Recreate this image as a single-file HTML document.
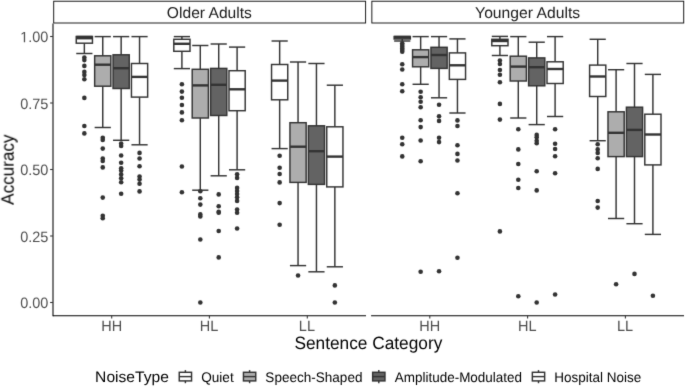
<!DOCTYPE html>
<html><head><meta charset="utf-8"><style>
html,body{margin:0;padding:0;background:#fff;}
svg{display:block;will-change:transform;}
text{font-family:"Liberation Sans",sans-serif;text-rendering:geometricPrecision;}
.st{font-size:15.4px;fill:#1a1a1a;}
.at{font-size:14.4px;fill:#4d4d4d;}
.ti{font-size:17.3px;fill:#000;}
.lt{font-size:15.3px;fill:#000;}
.lg{font-size:13.9px;fill:#000;}
circle{fill:#333333;}
</style></head><body>
<svg width="685" height="387" viewBox="0 0 685 387">
<defs><filter id="bl" x="0" y="0" width="685" height="387" filterUnits="userSpaceOnUse" color-interpolation-filters="sRGB"><feConvolveMatrix order="3" kernelMatrix="0.0100 0.0800 0.0100 0.0800 0.6400 0.0800 0.0100 0.0800 0.0100" divisor="1" edgeMode="duplicate" preserveAlpha="true"/></filter></defs>
<g filter="url(#bl)">
<rect width="685" height="387" fill="#fff"/>
<rect x="53.7" y="1.24" width="311.9" height="21.76" fill="#fff" stroke="#111" stroke-width="0.95"/>
<rect x="371.85" y="1.24" width="311.85" height="21.76" fill="#fff" stroke="#111" stroke-width="0.95"/>
<line x1="53.0" y1="23.4" x2="53.0" y2="316.37" stroke="#000" stroke-width="1.06"/>
<line x1="52.9" y1="315.86" x2="366" y2="315.86" stroke="#000" stroke-width="1.02"/>
<line x1="111.7" y1="315.86" x2="111.7" y2="318.6" stroke="#333" stroke-width="1.07"/>
<text x="101.21" y="330.90" textLength="20.91" lengthAdjust="spacingAndGlyphs" class="at" style="font-size:15.0px">HH</text>
<line x1="209.4" y1="315.86" x2="209.4" y2="318.6" stroke="#333" stroke-width="1.07"/>
<text x="199.75" y="330.90" textLength="18.52" lengthAdjust="spacingAndGlyphs" class="at" style="font-size:15.0px">HL</text>
<line x1="307.3" y1="315.86" x2="307.3" y2="318.6" stroke="#333" stroke-width="1.07"/>
<text x="298.86" y="330.90" textLength="16.10" lengthAdjust="spacingAndGlyphs" class="at" style="font-size:15.0px">LL</text>
<line x1="371.1" y1="315.86" x2="684" y2="315.86" stroke="#000" stroke-width="1.02"/>
<line x1="429.8" y1="315.86" x2="429.8" y2="318.6" stroke="#333" stroke-width="1.07"/>
<text x="419.31" y="330.90" textLength="20.91" lengthAdjust="spacingAndGlyphs" class="at" style="font-size:15.0px">HH</text>
<line x1="527.6" y1="315.86" x2="527.6" y2="318.6" stroke="#333" stroke-width="1.07"/>
<text x="517.95" y="330.90" textLength="18.52" lengthAdjust="spacingAndGlyphs" class="at" style="font-size:15.0px">HL</text>
<line x1="625.4" y1="315.86" x2="625.4" y2="318.6" stroke="#333" stroke-width="1.07"/>
<text x="616.96" y="330.90" textLength="16.10" lengthAdjust="spacingAndGlyphs" class="at" style="font-size:15.0px">LL</text>
<line x1="50.1" y1="36.5" x2="52.9" y2="36.5" stroke="#333" stroke-width="1.07"/>
<path d="M515 0L515 1237L197 1010L197 1180L530 1409L696 1409L696 0Z" fill="#4d4d4d" transform="translate(20.20,42.20) scale(0.007068,-0.007324)"/>
<text x="28.25" y="42.20" textLength="20.13" lengthAdjust="spacingAndGlyphs" class="at" style="font-size:15.0px">.00</text>
<line x1="50.1" y1="103" x2="52.9" y2="103" stroke="#333" stroke-width="1.07"/>
<text x="20.20" y="108.70" textLength="28.18" lengthAdjust="spacingAndGlyphs" class="at" style="font-size:15.0px">0.75</text>
<line x1="50.1" y1="169.5" x2="52.9" y2="169.5" stroke="#333" stroke-width="1.07"/>
<text x="20.20" y="175.20" textLength="28.18" lengthAdjust="spacingAndGlyphs" class="at" style="font-size:15.0px">0.50</text>
<line x1="50.1" y1="236" x2="52.9" y2="236" stroke="#333" stroke-width="1.07"/>
<text x="20.20" y="241.70" textLength="28.18" lengthAdjust="spacingAndGlyphs" class="at" style="font-size:15.0px">0.25</text>
<line x1="50.1" y1="302.5" x2="52.9" y2="302.5" stroke="#333" stroke-width="1.07"/>
<text x="20.20" y="308.20" textLength="28.18" lengthAdjust="spacingAndGlyphs" class="at" style="font-size:15.0px">0.00</text>
<line x1="84.35" y1="36.5" x2="84.35" y2="36.5" stroke="#333333" stroke-width="1.45"/>
<line x1="84.35" y1="43.2" x2="84.35" y2="53.5" stroke="#333333" stroke-width="1.45"/>
<line x1="76.25" y1="36.5" x2="92.45" y2="36.5" stroke="#333333" stroke-width="1.45"/>
<line x1="76.25" y1="53.5" x2="92.45" y2="53.5" stroke="#333333" stroke-width="1.45"/>
<rect x="76.25" y="36.5" width="16.2" height="6.7" fill="#ffffff" stroke="#333333" stroke-width="1.45"/>
<line x1="76.25" y1="38.2" x2="92.45" y2="38.2" stroke="#333333" stroke-width="2.4"/>
<circle cx="84.35" cy="57.6" r="2.3"/>
<circle cx="84.35" cy="60.1" r="2.3"/>
<circle cx="84.35" cy="65.9" r="2.3"/>
<circle cx="84.35" cy="71.9" r="2.3"/>
<circle cx="84.35" cy="75" r="2.3"/>
<circle cx="84.35" cy="79.3" r="2.3"/>
<circle cx="84.35" cy="97.9" r="2.3"/>
<circle cx="84.35" cy="126" r="2.3"/>
<circle cx="84.35" cy="133.4" r="2.3"/>
<line x1="102.75" y1="36.6" x2="102.75" y2="55.8" stroke="#333333" stroke-width="1.45"/>
<line x1="102.75" y1="86.2" x2="102.75" y2="127.5" stroke="#333333" stroke-width="1.45"/>
<line x1="94.65" y1="36.6" x2="110.85" y2="36.6" stroke="#333333" stroke-width="1.45"/>
<line x1="94.65" y1="127.5" x2="110.85" y2="127.5" stroke="#333333" stroke-width="1.45"/>
<rect x="94.65" y="55.8" width="16.2" height="30.4" fill="#adadad" stroke="#333333" stroke-width="1.45"/>
<line x1="94.65" y1="64.7" x2="110.85" y2="64.7" stroke="#333333" stroke-width="2.4"/>
<circle cx="102.75" cy="137.8" r="2.3"/>
<circle cx="102.75" cy="139.9" r="2.3"/>
<circle cx="102.75" cy="148.6" r="2.3"/>
<circle cx="102.75" cy="158.5" r="2.3"/>
<circle cx="102.75" cy="161" r="2.3"/>
<circle cx="102.75" cy="167.4" r="2.3"/>
<circle cx="102.75" cy="197.6" r="2.3"/>
<circle cx="102.75" cy="215.8" r="2.3"/>
<circle cx="102.75" cy="218.3" r="2.3"/>
<line x1="121.15" y1="36.6" x2="121.15" y2="54.8" stroke="#333333" stroke-width="1.45"/>
<line x1="121.15" y1="88.5" x2="121.15" y2="140.3" stroke="#333333" stroke-width="1.45"/>
<line x1="113.05" y1="36.6" x2="129.25" y2="36.6" stroke="#333333" stroke-width="1.45"/>
<line x1="113.05" y1="140.3" x2="129.25" y2="140.3" stroke="#333333" stroke-width="1.45"/>
<rect x="113.05" y="54.8" width="16.2" height="33.7" fill="#636363" stroke="#333333" stroke-width="1.45"/>
<line x1="113.05" y1="68.2" x2="129.25" y2="68.2" stroke="#333333" stroke-width="2.4"/>
<circle cx="121.15" cy="143.5" r="2.3"/>
<circle cx="121.15" cy="146" r="2.3"/>
<circle cx="121.15" cy="155.5" r="2.3"/>
<circle cx="121.15" cy="162.8" r="2.3"/>
<circle cx="121.15" cy="168.2" r="2.3"/>
<circle cx="121.15" cy="170.6" r="2.3"/>
<circle cx="121.15" cy="174.4" r="2.3"/>
<circle cx="121.15" cy="178.3" r="2.3"/>
<circle cx="121.15" cy="182.2" r="2.3"/>
<circle cx="121.15" cy="193.8" r="2.3"/>
<line x1="139.55" y1="36.6" x2="139.55" y2="63.5" stroke="#333333" stroke-width="1.45"/>
<line x1="139.55" y1="97.1" x2="139.55" y2="144.8" stroke="#333333" stroke-width="1.45"/>
<line x1="131.45" y1="36.6" x2="147.65" y2="36.6" stroke="#333333" stroke-width="1.45"/>
<line x1="131.45" y1="144.8" x2="147.65" y2="144.8" stroke="#333333" stroke-width="1.45"/>
<rect x="131.45" y="63.5" width="16.2" height="33.6" fill="#ffffff" stroke="#333333" stroke-width="1.45"/>
<line x1="131.45" y1="76.9" x2="147.65" y2="76.9" stroke="#333333" stroke-width="2.4"/>
<circle cx="139.55" cy="152.9" r="2.3"/>
<circle cx="139.55" cy="158.5" r="2.3"/>
<circle cx="139.55" cy="166.2" r="2.3"/>
<circle cx="139.55" cy="176.5" r="2.3"/>
<circle cx="139.55" cy="179.6" r="2.3"/>
<circle cx="139.55" cy="183.8" r="2.3"/>
<circle cx="139.55" cy="191.4" r="2.3"/>
<line x1="181.9" y1="36.6" x2="181.9" y2="39.3" stroke="#333333" stroke-width="1.45"/>
<line x1="181.9" y1="51.3" x2="181.9" y2="68.6" stroke="#333333" stroke-width="1.45"/>
<line x1="173.8" y1="36.6" x2="190" y2="36.6" stroke="#333333" stroke-width="1.45"/>
<line x1="173.8" y1="68.6" x2="190" y2="68.6" stroke="#333333" stroke-width="1.45"/>
<rect x="173.8" y="39.3" width="16.2" height="12" fill="#ffffff" stroke="#333333" stroke-width="1.45"/>
<line x1="173.8" y1="43.8" x2="190" y2="43.8" stroke="#333333" stroke-width="2.4"/>
<circle cx="181.9" cy="84.3" r="2.3"/>
<circle cx="181.9" cy="91.6" r="2.3"/>
<circle cx="181.9" cy="97.8" r="2.3"/>
<circle cx="181.9" cy="105" r="2.3"/>
<circle cx="181.9" cy="112.4" r="2.3"/>
<circle cx="181.9" cy="120.2" r="2.3"/>
<circle cx="181.9" cy="166.5" r="2.3"/>
<circle cx="181.9" cy="192.3" r="2.3"/>
<line x1="200.3" y1="45.5" x2="200.3" y2="69.3" stroke="#333333" stroke-width="1.45"/>
<line x1="200.3" y1="118" x2="200.3" y2="190.2" stroke="#333333" stroke-width="1.45"/>
<line x1="192.2" y1="45.5" x2="208.4" y2="45.5" stroke="#333333" stroke-width="1.45"/>
<line x1="192.2" y1="190.2" x2="208.4" y2="190.2" stroke="#333333" stroke-width="1.45"/>
<rect x="192.2" y="69.3" width="16.2" height="48.7" fill="#adadad" stroke="#333333" stroke-width="1.45"/>
<line x1="192.2" y1="85.4" x2="208.4" y2="85.4" stroke="#333333" stroke-width="2.4"/>
<circle cx="200.3" cy="191.3" r="2.3"/>
<circle cx="200.3" cy="198.3" r="2.3"/>
<circle cx="200.3" cy="204.6" r="2.3"/>
<circle cx="200.3" cy="214.4" r="2.3"/>
<circle cx="200.3" cy="216.4" r="2.3"/>
<circle cx="200.3" cy="239.5" r="2.3"/>
<circle cx="200.3" cy="302.5" r="2.3"/>
<line x1="218.7" y1="44" x2="218.7" y2="68.4" stroke="#333333" stroke-width="1.45"/>
<line x1="218.7" y1="115.5" x2="218.7" y2="175.8" stroke="#333333" stroke-width="1.45"/>
<line x1="210.6" y1="44" x2="226.8" y2="44" stroke="#333333" stroke-width="1.45"/>
<line x1="210.6" y1="175.8" x2="226.8" y2="175.8" stroke="#333333" stroke-width="1.45"/>
<rect x="210.6" y="68.4" width="16.2" height="47.1" fill="#636363" stroke="#333333" stroke-width="1.45"/>
<line x1="210.6" y1="84.8" x2="226.8" y2="84.8" stroke="#333333" stroke-width="2.4"/>
<circle cx="218.7" cy="194.4" r="2.3"/>
<circle cx="218.7" cy="206.2" r="2.3"/>
<circle cx="218.7" cy="211.8" r="2.3"/>
<circle cx="218.7" cy="212.8" r="2.3"/>
<circle cx="218.7" cy="231" r="2.3"/>
<circle cx="218.7" cy="257.4" r="2.3"/>
<line x1="237.1" y1="47.1" x2="237.1" y2="70.7" stroke="#333333" stroke-width="1.45"/>
<line x1="237.1" y1="110.7" x2="237.1" y2="169.8" stroke="#333333" stroke-width="1.45"/>
<line x1="229" y1="47.1" x2="245.2" y2="47.1" stroke="#333333" stroke-width="1.45"/>
<line x1="229" y1="169.8" x2="245.2" y2="169.8" stroke="#333333" stroke-width="1.45"/>
<rect x="229" y="70.7" width="16.2" height="40" fill="#ffffff" stroke="#333333" stroke-width="1.45"/>
<line x1="229" y1="89.3" x2="245.2" y2="89.3" stroke="#333333" stroke-width="2.4"/>
<circle cx="237.1" cy="174.2" r="2.3"/>
<circle cx="237.1" cy="177.9" r="2.3"/>
<circle cx="237.1" cy="187.9" r="2.3"/>
<circle cx="237.1" cy="191" r="2.3"/>
<circle cx="237.1" cy="194" r="2.3"/>
<circle cx="237.1" cy="197.2" r="2.3"/>
<circle cx="237.1" cy="200.9" r="2.3"/>
<circle cx="237.1" cy="209.6" r="2.3"/>
<circle cx="237.1" cy="212.7" r="2.3"/>
<circle cx="237.1" cy="228.5" r="2.3"/>
<line x1="279.65" y1="41" x2="279.65" y2="64.5" stroke="#333333" stroke-width="1.45"/>
<line x1="279.65" y1="99.8" x2="279.65" y2="148.6" stroke="#333333" stroke-width="1.45"/>
<line x1="271.55" y1="41" x2="287.75" y2="41" stroke="#333333" stroke-width="1.45"/>
<line x1="271.55" y1="148.6" x2="287.75" y2="148.6" stroke="#333333" stroke-width="1.45"/>
<rect x="271.55" y="64.5" width="16.2" height="35.3" fill="#ffffff" stroke="#333333" stroke-width="1.45"/>
<line x1="271.55" y1="80.6" x2="287.75" y2="80.6" stroke="#333333" stroke-width="2.4"/>
<circle cx="279.65" cy="155.8" r="2.3"/>
<circle cx="279.65" cy="167.8" r="2.3"/>
<circle cx="279.65" cy="174" r="2.3"/>
<circle cx="279.65" cy="182.4" r="2.3"/>
<circle cx="279.65" cy="203.1" r="2.3"/>
<circle cx="279.65" cy="224.8" r="2.3"/>
<line x1="298.05" y1="62" x2="298.05" y2="122.7" stroke="#333333" stroke-width="1.45"/>
<line x1="298.05" y1="182.4" x2="298.05" y2="265.6" stroke="#333333" stroke-width="1.45"/>
<line x1="289.95" y1="62" x2="306.15" y2="62" stroke="#333333" stroke-width="1.45"/>
<line x1="289.95" y1="265.6" x2="306.15" y2="265.6" stroke="#333333" stroke-width="1.45"/>
<rect x="289.95" y="122.7" width="16.2" height="59.7" fill="#adadad" stroke="#333333" stroke-width="1.45"/>
<line x1="289.95" y1="146.7" x2="306.15" y2="146.7" stroke="#333333" stroke-width="2.4"/>
<circle cx="298.05" cy="275.5" r="2.3"/>
<line x1="316.45" y1="63.5" x2="316.45" y2="125.8" stroke="#333333" stroke-width="1.45"/>
<line x1="316.45" y1="184.4" x2="316.45" y2="271.8" stroke="#333333" stroke-width="1.45"/>
<line x1="308.35" y1="63.5" x2="324.55" y2="63.5" stroke="#333333" stroke-width="1.45"/>
<line x1="308.35" y1="271.8" x2="324.55" y2="271.8" stroke="#333333" stroke-width="1.45"/>
<rect x="308.35" y="125.8" width="16.2" height="58.6" fill="#636363" stroke="#333333" stroke-width="1.45"/>
<line x1="308.35" y1="151.2" x2="324.55" y2="151.2" stroke="#333333" stroke-width="2.4"/>
<line x1="334.85" y1="85.2" x2="334.85" y2="126.8" stroke="#333333" stroke-width="1.45"/>
<line x1="334.85" y1="186.9" x2="334.85" y2="266.8" stroke="#333333" stroke-width="1.45"/>
<line x1="326.75" y1="85.2" x2="342.95" y2="85.2" stroke="#333333" stroke-width="1.45"/>
<line x1="326.75" y1="266.8" x2="342.95" y2="266.8" stroke="#333333" stroke-width="1.45"/>
<rect x="326.75" y="126.8" width="16.2" height="60.1" fill="#ffffff" stroke="#333333" stroke-width="1.45"/>
<line x1="326.75" y1="156.6" x2="342.95" y2="156.6" stroke="#333333" stroke-width="2.4"/>
<circle cx="334.85" cy="285.4" r="2.3"/>
<circle cx="334.85" cy="302.5" r="2.3"/>
<line x1="402.25" y1="36.5" x2="402.25" y2="36.5" stroke="#333333" stroke-width="1.45"/>
<line x1="402.25" y1="39" x2="402.25" y2="41" stroke="#333333" stroke-width="1.45"/>
<line x1="394.15" y1="36.5" x2="410.35" y2="36.5" stroke="#333333" stroke-width="1.45"/>
<line x1="394.15" y1="41" x2="410.35" y2="41" stroke="#333333" stroke-width="1.45"/>
<rect x="394.15" y="36.5" width="16.2" height="2.5" fill="#ffffff" stroke="#333333" stroke-width="1.45"/>
<line x1="394.15" y1="37.6" x2="410.35" y2="37.6" stroke="#333333" stroke-width="2.4"/>
<circle cx="402.25" cy="43.3" r="2.3"/>
<circle cx="402.25" cy="45" r="2.3"/>
<circle cx="402.25" cy="46.7" r="2.3"/>
<circle cx="402.25" cy="48.4" r="2.3"/>
<circle cx="402.25" cy="50" r="2.3"/>
<circle cx="402.25" cy="51.7" r="2.3"/>
<circle cx="402.25" cy="64.3" r="2.3"/>
<circle cx="402.25" cy="69.5" r="2.3"/>
<circle cx="402.25" cy="84.3" r="2.3"/>
<circle cx="402.25" cy="91.2" r="2.3"/>
<circle cx="402.25" cy="137.8" r="2.3"/>
<circle cx="402.25" cy="144.2" r="2.3"/>
<circle cx="402.25" cy="156.4" r="2.3"/>
<line x1="420.65" y1="36.6" x2="420.65" y2="49.8" stroke="#333333" stroke-width="1.45"/>
<line x1="420.65" y1="66.8" x2="420.65" y2="84.3" stroke="#333333" stroke-width="1.45"/>
<line x1="412.55" y1="36.6" x2="428.75" y2="36.6" stroke="#333333" stroke-width="1.45"/>
<line x1="412.55" y1="84.3" x2="428.75" y2="84.3" stroke="#333333" stroke-width="1.45"/>
<rect x="412.55" y="49.8" width="16.2" height="17" fill="#adadad" stroke="#333333" stroke-width="1.45"/>
<line x1="412.55" y1="57.1" x2="428.75" y2="57.1" stroke="#333333" stroke-width="2.4"/>
<circle cx="420.65" cy="91.8" r="2.3"/>
<circle cx="420.65" cy="97.3" r="2.3"/>
<circle cx="420.65" cy="101.7" r="2.3"/>
<circle cx="420.65" cy="107.2" r="2.3"/>
<circle cx="420.65" cy="120.2" r="2.3"/>
<circle cx="420.65" cy="127.1" r="2.3"/>
<circle cx="420.65" cy="140.5" r="2.3"/>
<circle cx="420.65" cy="161.2" r="2.3"/>
<circle cx="420.65" cy="271.8" r="2.3"/>
<line x1="439.05" y1="36.6" x2="439.05" y2="47.3" stroke="#333333" stroke-width="1.45"/>
<line x1="439.05" y1="68.4" x2="439.05" y2="97.8" stroke="#333333" stroke-width="1.45"/>
<line x1="430.95" y1="36.6" x2="447.15" y2="36.6" stroke="#333333" stroke-width="1.45"/>
<line x1="430.95" y1="97.8" x2="447.15" y2="97.8" stroke="#333333" stroke-width="1.45"/>
<rect x="430.95" y="47.3" width="16.2" height="21.1" fill="#636363" stroke="#333333" stroke-width="1.45"/>
<line x1="430.95" y1="55" x2="447.15" y2="55" stroke="#333333" stroke-width="2.4"/>
<circle cx="439.05" cy="104.8" r="2.3"/>
<circle cx="439.05" cy="116.3" r="2.3"/>
<circle cx="439.05" cy="120.9" r="2.3"/>
<circle cx="439.05" cy="137.8" r="2.3"/>
<circle cx="439.05" cy="142.1" r="2.3"/>
<circle cx="439.05" cy="271.2" r="2.3"/>
<line x1="457.45" y1="38.9" x2="457.45" y2="52.9" stroke="#333333" stroke-width="1.45"/>
<line x1="457.45" y1="79.4" x2="457.45" y2="113" stroke="#333333" stroke-width="1.45"/>
<line x1="449.35" y1="38.9" x2="465.55" y2="38.9" stroke="#333333" stroke-width="1.45"/>
<line x1="449.35" y1="113" x2="465.55" y2="113" stroke="#333333" stroke-width="1.45"/>
<rect x="449.35" y="52.9" width="16.2" height="26.5" fill="#ffffff" stroke="#333333" stroke-width="1.45"/>
<line x1="449.35" y1="65.3" x2="465.55" y2="65.3" stroke="#333333" stroke-width="2.4"/>
<circle cx="457.45" cy="120.4" r="2.3"/>
<circle cx="457.45" cy="126" r="2.3"/>
<circle cx="457.45" cy="145.2" r="2.3"/>
<circle cx="457.45" cy="153.9" r="2.3"/>
<circle cx="457.45" cy="160.5" r="2.3"/>
<circle cx="457.45" cy="193.3" r="2.3"/>
<circle cx="457.45" cy="257.8" r="2.3"/>
<line x1="499.9" y1="36.4" x2="499.9" y2="39.3" stroke="#333333" stroke-width="1.45"/>
<line x1="499.9" y1="45.7" x2="499.9" y2="55.5" stroke="#333333" stroke-width="1.45"/>
<line x1="491.8" y1="36.4" x2="508" y2="36.4" stroke="#333333" stroke-width="1.45"/>
<line x1="491.8" y1="55.5" x2="508" y2="55.5" stroke="#333333" stroke-width="1.45"/>
<rect x="491.8" y="39.3" width="16.2" height="6.4" fill="#ffffff" stroke="#333333" stroke-width="1.45"/>
<line x1="491.8" y1="41" x2="508" y2="41" stroke="#333333" stroke-width="2.4"/>
<circle cx="499.9" cy="60.5" r="2.3"/>
<circle cx="499.9" cy="64" r="2.3"/>
<circle cx="499.9" cy="70" r="2.3"/>
<circle cx="499.9" cy="74.8" r="2.3"/>
<circle cx="499.9" cy="82.2" r="2.3"/>
<circle cx="499.9" cy="103.9" r="2.3"/>
<circle cx="499.9" cy="119.6" r="2.3"/>
<circle cx="499.9" cy="231.4" r="2.3"/>
<line x1="518.3" y1="36.6" x2="518.3" y2="56.2" stroke="#333333" stroke-width="1.45"/>
<line x1="518.3" y1="81" x2="518.3" y2="118" stroke="#333333" stroke-width="1.45"/>
<line x1="510.2" y1="36.6" x2="526.4" y2="36.6" stroke="#333333" stroke-width="1.45"/>
<line x1="510.2" y1="118" x2="526.4" y2="118" stroke="#333333" stroke-width="1.45"/>
<rect x="510.2" y="56.2" width="16.2" height="24.8" fill="#adadad" stroke="#333333" stroke-width="1.45"/>
<line x1="510.2" y1="66.6" x2="526.4" y2="66.6" stroke="#333333" stroke-width="2.4"/>
<circle cx="518.3" cy="129.3" r="2.3"/>
<circle cx="518.3" cy="149.4" r="2.3"/>
<circle cx="518.3" cy="164" r="2.3"/>
<circle cx="518.3" cy="179.8" r="2.3"/>
<circle cx="518.3" cy="188" r="2.3"/>
<circle cx="518.3" cy="296.2" r="2.3"/>
<line x1="536.7" y1="42.2" x2="536.7" y2="57.9" stroke="#333333" stroke-width="1.45"/>
<line x1="536.7" y1="85.8" x2="536.7" y2="124.6" stroke="#333333" stroke-width="1.45"/>
<line x1="528.6" y1="42.2" x2="544.8" y2="42.2" stroke="#333333" stroke-width="1.45"/>
<line x1="528.6" y1="124.6" x2="544.8" y2="124.6" stroke="#333333" stroke-width="1.45"/>
<rect x="528.6" y="57.9" width="16.2" height="27.9" fill="#636363" stroke="#333333" stroke-width="1.45"/>
<line x1="528.6" y1="67.2" x2="544.8" y2="67.2" stroke="#333333" stroke-width="2.4"/>
<circle cx="536.7" cy="134.9" r="2.3"/>
<circle cx="536.7" cy="137.2" r="2.3"/>
<circle cx="536.7" cy="140.7" r="2.3"/>
<circle cx="536.7" cy="143.2" r="2.3"/>
<circle cx="536.7" cy="171.3" r="2.3"/>
<circle cx="536.7" cy="190.4" r="2.3"/>
<circle cx="536.7" cy="302.5" r="2.3"/>
<line x1="555.1" y1="36.6" x2="555.1" y2="61.8" stroke="#333333" stroke-width="1.45"/>
<line x1="555.1" y1="83.5" x2="555.1" y2="116.5" stroke="#333333" stroke-width="1.45"/>
<line x1="547" y1="36.6" x2="563.2" y2="36.6" stroke="#333333" stroke-width="1.45"/>
<line x1="547" y1="116.5" x2="563.2" y2="116.5" stroke="#333333" stroke-width="1.45"/>
<rect x="547" y="61.8" width="16.2" height="21.7" fill="#ffffff" stroke="#333333" stroke-width="1.45"/>
<line x1="547" y1="69" x2="563.2" y2="69" stroke="#333333" stroke-width="2.4"/>
<circle cx="555.1" cy="129.3" r="2.3"/>
<circle cx="555.1" cy="143.8" r="2.3"/>
<circle cx="555.1" cy="149" r="2.3"/>
<circle cx="555.1" cy="156.2" r="2.3"/>
<circle cx="555.1" cy="173.3" r="2.3"/>
<circle cx="555.1" cy="294.5" r="2.3"/>
<line x1="597.7" y1="39.3" x2="597.7" y2="65.1" stroke="#333333" stroke-width="1.45"/>
<line x1="597.7" y1="96.5" x2="597.7" y2="140.7" stroke="#333333" stroke-width="1.45"/>
<line x1="589.6" y1="39.3" x2="605.8" y2="39.3" stroke="#333333" stroke-width="1.45"/>
<line x1="589.6" y1="140.7" x2="605.8" y2="140.7" stroke="#333333" stroke-width="1.45"/>
<rect x="589.6" y="65.1" width="16.2" height="31.4" fill="#ffffff" stroke="#333333" stroke-width="1.45"/>
<line x1="589.6" y1="76.5" x2="605.8" y2="76.5" stroke="#333333" stroke-width="2.4"/>
<circle cx="597.7" cy="144.2" r="2.3"/>
<circle cx="597.7" cy="149.4" r="2.3"/>
<circle cx="597.7" cy="152.9" r="2.3"/>
<circle cx="597.7" cy="158.2" r="2.3"/>
<circle cx="597.7" cy="168.9" r="2.3"/>
<circle cx="597.7" cy="201" r="2.3"/>
<circle cx="597.7" cy="207.6" r="2.3"/>
<line x1="616.1" y1="69.7" x2="616.1" y2="111.8" stroke="#333333" stroke-width="1.45"/>
<line x1="616.1" y1="156.6" x2="616.1" y2="218.5" stroke="#333333" stroke-width="1.45"/>
<line x1="608" y1="69.7" x2="624.2" y2="69.7" stroke="#333333" stroke-width="1.45"/>
<line x1="608" y1="218.5" x2="624.2" y2="218.5" stroke="#333333" stroke-width="1.45"/>
<rect x="608" y="111.8" width="16.2" height="44.8" fill="#adadad" stroke="#333333" stroke-width="1.45"/>
<line x1="608" y1="132.8" x2="624.2" y2="132.8" stroke="#333333" stroke-width="2.4"/>
<circle cx="616.1" cy="284.2" r="2.3"/>
<line x1="634.5" y1="63.5" x2="634.5" y2="107.2" stroke="#333333" stroke-width="1.45"/>
<line x1="634.5" y1="156.6" x2="634.5" y2="223.7" stroke="#333333" stroke-width="1.45"/>
<line x1="626.4" y1="63.5" x2="642.6" y2="63.5" stroke="#333333" stroke-width="1.45"/>
<line x1="626.4" y1="223.7" x2="642.6" y2="223.7" stroke="#333333" stroke-width="1.45"/>
<rect x="626.4" y="107.2" width="16.2" height="49.4" fill="#636363" stroke="#333333" stroke-width="1.45"/>
<line x1="626.4" y1="129.9" x2="642.6" y2="129.9" stroke="#333333" stroke-width="2.4"/>
<circle cx="634.5" cy="273.9" r="2.3"/>
<line x1="652.9" y1="74.4" x2="652.9" y2="114.2" stroke="#333333" stroke-width="1.45"/>
<line x1="652.9" y1="164.9" x2="652.9" y2="234.4" stroke="#333333" stroke-width="1.45"/>
<line x1="644.8" y1="74.4" x2="661" y2="74.4" stroke="#333333" stroke-width="1.45"/>
<line x1="644.8" y1="234.4" x2="661" y2="234.4" stroke="#333333" stroke-width="1.45"/>
<rect x="644.8" y="114.2" width="16.2" height="50.7" fill="#ffffff" stroke="#333333" stroke-width="1.45"/>
<line x1="644.8" y1="134.5" x2="661" y2="134.5" stroke="#333333" stroke-width="2.4"/>
<circle cx="652.9" cy="295.8" r="2.3"/>
<text transform="translate(13.6,204.80) rotate(-90)" textLength="70.42" lengthAdjust="spacingAndGlyphs" class="ti" style="font-size:17.8px">Accuracy</text>
<text x="166.85" y="17.60" textLength="85.05" lengthAdjust="spacingAndGlyphs" class="st" style="font-size:15.6px">Older Adults</text>
<text x="475.10" y="17.60" textLength="105.10" lengthAdjust="spacingAndGlyphs" class="st" style="font-size:15.6px">Younger Adults</text>
<text x="95.12" y="382.00" textLength="73.77" lengthAdjust="spacingAndGlyphs" class="lt" style="font-size:15.3px">NoiseType</text>
<text x="201.17" y="381.90" textLength="32.53" lengthAdjust="spacingAndGlyphs" class="lg" style="font-size:13.9px">Quiet</text>
<text x="265.37" y="381.90" textLength="97.10" lengthAdjust="spacingAndGlyphs" class="lg" style="font-size:13.9px">Speech-Shaped</text>
<text x="394.80" y="381.90" textLength="127.19" lengthAdjust="spacingAndGlyphs" class="lg" style="font-size:13.9px">Amplitude-Modulated</text>
<text x="554.19" y="381.90" textLength="86.96" lengthAdjust="spacingAndGlyphs" class="lg" style="font-size:13.9px">Hospital Noise</text>
<text x="294.47" y="349.00" textLength="147.86" lengthAdjust="spacingAndGlyphs" class="ti" style="font-size:17.8px">Sentence Category</text>
<line x1="185.4" y1="370.1" x2="185.4" y2="383.2" stroke="#333333" stroke-width="1.45"/>
<rect x="179.25" y="372.3" width="12.3" height="8.6" fill="#ffffff" stroke="#333333" stroke-width="1.45"/>
<line x1="179.25" y1="376.6" x2="191.55" y2="376.6" stroke="#333333" stroke-width="1.45"/>
<line x1="249.6" y1="370.1" x2="249.6" y2="383.2" stroke="#333333" stroke-width="1.45"/>
<rect x="243.45" y="372.3" width="12.3" height="8.6" fill="#adadad" stroke="#333333" stroke-width="1.45"/>
<line x1="243.45" y1="376.6" x2="255.75" y2="376.6" stroke="#333333" stroke-width="1.45"/>
<line x1="378.8" y1="370.1" x2="378.8" y2="383.2" stroke="#333333" stroke-width="1.45"/>
<rect x="372.65" y="372.3" width="12.3" height="8.6" fill="#636363" stroke="#333333" stroke-width="1.45"/>
<line x1="372.65" y1="376.6" x2="384.95" y2="376.6" stroke="#333333" stroke-width="1.45"/>
<line x1="538.5" y1="370.1" x2="538.5" y2="383.2" stroke="#333333" stroke-width="1.45"/>
<rect x="532.35" y="372.3" width="12.3" height="8.6" fill="#ffffff" stroke="#333333" stroke-width="1.45"/>
<line x1="532.35" y1="376.6" x2="544.65" y2="376.6" stroke="#333333" stroke-width="1.45"/>
</g>
</svg>
</body></html>
